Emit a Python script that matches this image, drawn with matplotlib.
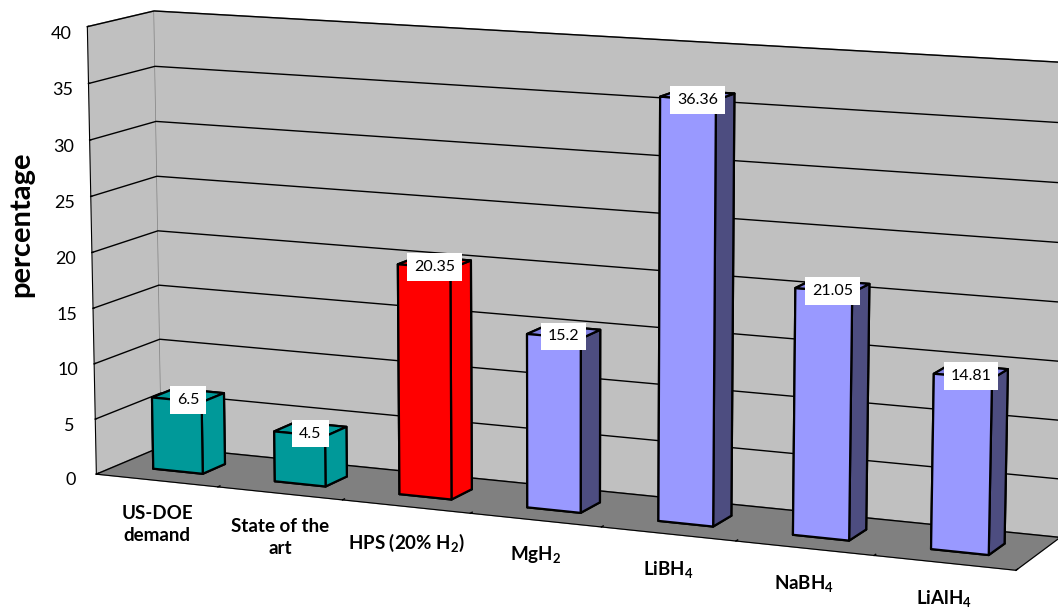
import matplotlib
matplotlib.use("Agg")
import matplotlib.pyplot as plt
import numpy as np

categories = ["US-DOE\ndemand", "State of the\nart", "HPS (20% H$_\\mathbf{2}$)",
              "MgH$_\\mathbf{2}$", "LiBH$_\\mathbf{4}$", "NaBH$_\\mathbf{4}$", "LiAlH$_\\mathbf{4}$"]
values = [6.5, 4.5, 20.35, 15.2, 36.36, 21.05, 14.81]
value_labels = ["6.5", "4.5", "20.35", "15.2", "36.36", "21.05", "14.81"]
z_ticks = [0, 5, 10, 15, 20, 25, 30, 35, 40]
front_colors = ["#009999", "#009999", "#ff0000", "#9999ff", "#9999ff", "#9999ff", "#9999ff"]
side_colors = ["#009999", "#009999", "#ff0000", "#4d4d80", "#4d4d80", "#4d4d80", "#4d4d80"]
top_colors = ["#009999", "#009999", "#ff0000", "#8080e0", "#8080e0", "#8080e0", "#8080e0"]

plt.rcParams['font.family'] = ['Lato', 'DejaVu Sans']
plt.rcParams['mathtext.fontset'] = 'custom'
plt.rcParams['mathtext.bf'] = 'Lato:bold'
plt.rcParams['mathtext.rm'] = 'Lato'

fig = plt.figure(figsize=(10.58, 6.07), dpi=100)
ax = fig.add_axes([-0.371, -0.370, 1.78, 1.78], projection='3d')

n = len(values)
bw = 0.41
bd = 0.35
for i, v in enumerate(values):
    # face order: bottom, top, front(-y), back(+y), left(-x), right(+x)
    fc = [front_colors[i], top_colors[i], front_colors[i], front_colors[i], front_colors[i], side_colors[i]]
    ax.bar3d(i - bw / 2, 0.5 - bd / 2, 0, bw, bd, v, color=fc, shade=False,
             edgecolor='black', linewidth=1.6)

ax.set_xlim(-0.5, n - 0.5)
ax.set_ylim(0, 1)
ax.set_zlim(0, 40)
ax.set_box_aspect((6.4, 0.9, 3.0), zoom=1.0)
ax.view_init(elev=10.6, azim=-66.4)
ax.set_proj_type('persp', focal_length=0.75)

ax.xaxis.set_pane_color("#c0c0c0")
ax.yaxis.set_pane_color("#c0c0c0")
ax.zaxis.set_pane_color("#808080")
for a in (ax.xaxis, ax.yaxis, ax.zaxis):
    a.pane.set_edgecolor("#808080")

ax.set_xticks(np.arange(-0.5, n, 1.0))
ax.set_xticklabels([])
ax.set_yticks([])
ax.set_zticks(z_ticks)
ax.set_zticklabels([str(t) for t in z_ticks], fontsize=13)
ax.zaxis.set_ticks_position('lower')
for a in (ax.xaxis, ax.yaxis):
    for t in a.get_ticklabels():
        t.set_visible(False)
    a.label.set_visible(False)
    a.offsetText.set_visible(False)
ax.zaxis.label.set_visible(False)
ax.zaxis.offsetText.set_visible(False)

ax.xaxis._axinfo['grid'].update(color=(0, 0, 0, 0), linewidth=0)
ax.yaxis._axinfo['grid'].update(color=(0, 0, 0, 0), linewidth=0)
ax.zaxis._axinfo['grid'].update(color='black', linewidth=1.0, linestyle='-')
for a in (ax.xaxis, ax.yaxis, ax.zaxis):
    a._axinfo['tick']['inward_factor'] = 0.0
    a._axinfo['tick']['outward_factor'] = 0.2
    a._axinfo['tick']['linewidth'] = {True: 1.0, False: 1.0}
    a._axinfo['axisline']['color'] = 'black'
    a._axinfo['axisline']['linewidth'] = 1.2
ax.xaxis._axinfo['tick']['outward_factor'] = 0.4

for i, (lab, v) in enumerate(zip(value_labels, values)):
    ax.text(i, 0.5, v - 0.4, lab, ha='center', va='center', fontsize=11.5, zorder=100,
            bbox=dict(facecolor='white', edgecolor='none', pad=5))

for i, lab in enumerate(categories):
    ax.text(i, 0, -2.2, lab, ha='center', va='top', fontsize=13.5, fontweight='bold',
            linespacing=1.4, zorder=100)

fig.text(0.02, 0.631, "percentage", rotation=90, ha='center', va='center',
         fontsize=21, fontweight='bold')

fig.savefig("out.png", dpi=100)
